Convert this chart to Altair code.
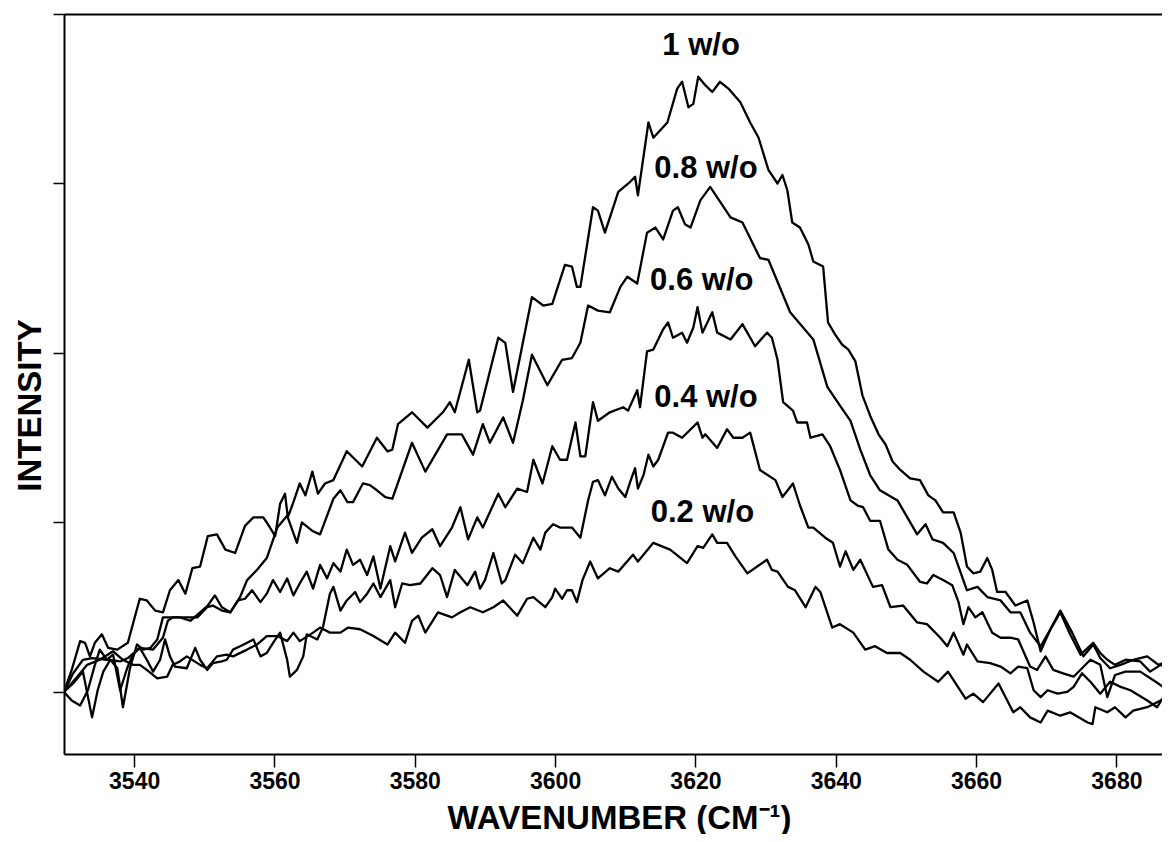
import altair as alt
import pandas as pd

# ---- spectra (wavenumber in cm-1, intensity in arbitrary units) ----
wn_a = [3530.0,3531.1,3532.3,3533.0,3533.7,3534.4,3535.4,3536.3,3537.6,3539.1,
        3540.8,3541.8,3543.0,3544.1,3545.1,3546.3,3547.3,3548.3,3549.4,3550.5,
        3551.8,3553.0,3554.4,3555.8,3557.0,3558.4,3558.9,3560.1,3560.8,3561.5,
        3561.9,3562.7,3563.6,3564.4,3565.4,3566.2,3567.2,3568.4,3570.3,3572.5,
        3574.6,3576.1,3576.8,3577.6,3579.6,3581.8,3584.0,3585.0,3585.7,3587.7,
        3588.9,3589.3,3591.9,3592.9,3594.0,3596.7,3598.3,3599.6,3601.4,3602.4,
        3603.1,3603.6,3605.4,3606.1,3607.1,3609.0,3610.7,3611.4,3611.8,3613.3,
        3614.0,3616.0,3617.4,3618.1,3619.0,3619.7,3620.4,3621.4,3622.4,3623.5,
        3624.7,3626.4,3627.8,3629.0,3630.4,3631.7,3632.4,3633.1,3633.8,3634.9,
        3636.1,3636.8,3638.2,3638.9,3639.9,3640.9,3641.8,3642.8,3643.8,3644.9,
        3646.1,3647.1,3648.1,3649.2,3650.6,3652.0,3653.2,3654.2,3655.3,3656.8,
        3657.8,3658.7,3659.6,3660.6,3661.6,3662.3,3663.0,3664.2,3665.6,3667.3,
        3668.2,3669.2,3670.6,3672.0,3673.7,3675.3,3676.7,3677.7,3679.1,3680.6,
        3682.4,3684.4,3686.0,3688.0]
int_a = [0.00,0.13,0.30,0.29,0.21,0.29,0.34,0.26,0.25,0.29,
         0.55,0.54,0.48,0.47,0.60,0.66,0.58,0.73,0.74,0.92,
         0.93,0.84,0.82,0.98,1.03,1.03,1.00,0.92,1.11,1.17,
         1.03,1.12,1.23,1.16,1.30,1.17,1.23,1.25,1.42,1.33,
         1.50,1.42,1.43,1.58,1.65,1.56,1.65,1.71,1.65,1.96,
         1.65,1.66,2.09,2.06,1.77,2.33,2.28,2.29,2.52,2.51,
         2.39,2.39,2.86,2.84,2.71,2.95,3.01,3.04,2.93,3.36,
         3.27,3.36,3.56,3.60,3.45,3.47,3.63,3.58,3.54,3.60,
         3.56,3.48,3.36,3.27,3.08,3.00,3.05,2.96,2.77,2.74,
         2.64,2.54,2.51,2.18,2.11,2.05,2.02,1.95,1.75,1.63,
         1.52,1.46,1.36,1.31,1.26,1.25,1.16,1.13,1.06,1.06,
         0.94,0.74,0.70,0.71,0.79,0.72,0.59,0.59,0.51,0.54,
         0.41,0.24,0.37,0.48,0.35,0.21,0.28,0.20,0.14,0.16,
         0.19,0.21,0.16,0.19]

wn_b = [3530.0,3531.3,3532.7,3534.0,3536.1,3538.0,3539.1,3540.8,3542.7,3544.1,
        3544.8,3545.5,3547.5,3549.0,3550.4,3551.2,3552.5,3553.7,3555.1,3556.1,
        3557.5,3558.9,3560.4,3561.8,3563.2,3563.9,3565.4,3566.5,3568.4,3569.4,
        3570.4,3571.2,3572.6,3573.6,3574.6,3575.8,3576.8,3579.6,3581.5,3584.6,
        3586.7,3588.3,3589.7,3590.7,3592.6,3594.0,3595.4,3596.7,3598.9,3601.0,
        3602.4,3603.6,3604.7,3606.1,3607.8,3609.3,3610.3,3611.7,3613.1,3614.3,
        3615.4,3616.8,3617.5,3618.5,3619.3,3620.7,3622.1,3625.0,3626.7,3629.2,
        3630.4,3633.5,3636.8,3638.8,3640.6,3642.1,3643.5,3644.9,3646.3,3648.8,
        3650.2,3651.6,3652.8,3653.8,3655.3,3656.8,3658.7,3660.2,3661.6,3663.5,
        3664.9,3666.3,3667.7,3669.2,3672.0,3673.4,3674.9,3676.7,3677.7,3678.7,
        3679.8,3681.3,3683.4,3684.8,3686.3,3688.0]
int_b = [0.00,0.11,0.19,0.20,0.19,0.18,0.20,0.26,0.25,0.32,
         0.42,0.44,0.44,0.44,0.50,0.51,0.48,0.47,0.56,0.66,
         0.72,0.79,0.97,1.04,0.88,1.00,0.95,0.93,1.14,1.19,
         1.12,1.12,1.23,1.22,1.19,1.15,1.14,1.47,1.30,1.52,
         1.52,1.40,1.58,1.47,1.62,1.47,1.72,1.99,1.81,1.96,
         1.97,2.06,2.28,2.25,2.24,2.39,2.45,2.41,2.71,2.74,
         2.67,2.84,2.86,2.76,2.74,2.90,2.98,2.80,2.77,2.56,
         2.55,2.24,2.08,1.80,1.69,1.60,1.43,1.28,1.19,1.13,
         1.03,0.93,0.99,0.90,0.88,0.82,0.60,0.62,0.56,0.54,
         0.47,0.47,0.35,0.27,0.47,0.34,0.22,0.29,0.23,0.19,
         0.16,0.19,0.18,0.12,0.16,0.13]

wn_c = [3530.0,3531.3,3532.7,3534.0,3534.8,3535.6,3536.6,3537.6,3538.4,3539.4,
        3540.4,3541.3,3542.3,3543.3,3544.1,3545.1,3546.5,3548.0,3549.4,3550.5,
        3551.5,3552.5,3553.7,3554.8,3555.8,3556.8,3558.0,3558.9,3559.8,3560.8,
        3561.8,3562.7,3563.6,3564.6,3565.5,3566.5,3567.5,3568.4,3569.4,3570.3,
        3571.2,3572.2,3573.2,3574.1,3575.1,3576.5,3577.2,3578.6,3579.6,3581.0,
        3582.5,3583.6,3585.3,3586.5,3587.6,3588.9,3589.7,3591.9,3592.9,3594.6,
        3596.0,3596.9,3598.2,3599.6,3600.7,3601.7,3602.9,3603.6,3604.3,3605.4,
        3606.1,3607.8,3609.7,3610.4,3611.7,3612.1,3613.1,3614.0,3615.4,3616.1,
        3616.8,3618.1,3618.8,3619.7,3620.3,3621.0,3622.4,3623.1,3625.0,3626.7,
        3628.5,3630.2,3630.9,3631.7,3632.5,3633.9,3634.5,3635.9,3636.4,3638.1,
        3639.2,3640.6,3642.1,3643.1,3643.9,3644.9,3646.3,3647.5,3648.8,3650.2,
        3652.0,3653.0,3653.9,3655.3,3656.6,3657.5,3658.2,3658.9,3659.9,3660.9,
        3662.3,3663.5,3664.9,3666.0,3667.7,3668.7,3669.9,3671.0,3672.4,3673.9,
        3675.1,3676.3,3677.7,3678.7,3679.8,3681.3,3683.4,3685.6,3687.0,3688.0]
int_c = [0.00,0.05,0.12,-0.15,0.01,0.12,0.19,0.14,-0.09,0.14,
         0.28,0.25,0.26,0.31,0.44,0.44,0.44,0.42,0.47,0.51,
         0.57,0.50,0.47,0.54,0.55,0.60,0.53,0.58,0.66,0.59,
         0.67,0.57,0.64,0.71,0.61,0.75,0.67,0.76,0.71,0.84,
         0.75,0.78,0.69,0.80,0.61,0.86,0.77,0.94,0.82,0.91,
         0.96,0.86,0.97,1.09,0.90,1.03,0.97,1.17,1.09,1.20,
         1.18,1.37,1.23,1.45,1.37,1.37,1.59,1.39,1.39,1.71,
         1.60,1.65,1.68,1.66,1.78,1.68,2.01,2.02,2.14,2.18,
         2.09,2.12,2.06,2.15,2.27,2.12,2.24,2.12,2.08,2.17,
         2.04,2.12,2.09,1.96,1.71,1.66,1.59,1.59,1.50,1.52,
         1.45,1.31,1.13,1.10,1.09,1.01,1.01,0.84,0.78,0.75,
         0.65,0.64,0.69,0.66,0.63,0.53,0.40,0.50,0.44,0.47,
         0.35,0.32,0.32,0.31,0.15,0.13,0.21,0.13,0.11,0.09,
         0.14,0.19,0.16,-0.03,0.10,0.12,0.12,0.06,0.02,0.01]

wn_d = [3530.0,3531.1,3532.3,3533.4,3534.4,3535.1,3536.1,3537.0,3538.0,3539.0,
        3539.8,3540.8,3541.8,3542.7,3543.7,3544.4,3545.1,3545.8,3547.5,3548.7,
        3549.4,3550.4,3551.2,3552.5,3553.2,3554.1,3555.1,3556.1,3557.0,3558.0,
        3558.9,3559.8,3560.8,3561.8,3562.2,3563.2,3564.1,3564.6,3566.1,3566.9,
        3567.9,3568.4,3569.4,3570.3,3571.5,3572.2,3573.2,3574.1,3575.1,3576.5,
        3577.2,3578.2,3579.3,3580.8,3582.5,3583.6,3584.6,3585.7,3587.5,3588.6,
        3589.3,3590.0,3591.2,3592.4,3592.9,3594.3,3595.4,3596.9,3597.9,3598.6,
        3599.7,3600.7,3602.4,3603.6,3604.7,3605.4,3606.1,3607.1,3608.1,3609.0,
        3610.0,3610.7,3611.4,3611.8,3612.6,3613.3,3614.0,3614.7,3616.1,3616.8,
        3618.1,3620.3,3621.0,3621.4,3623.1,3624.5,3625.4,3626.7,3627.8,3629.2,
        3631.4,3632.4,3633.9,3634.9,3636.1,3636.8,3638.5,3639.6,3640.6,3641.4,
        3642.5,3643.5,3645.3,3646.6,3647.8,3649.6,3651.6,3653.0,3654.9,3655.9,
        3656.8,3658.2,3658.7,3660.2,3662.0,3663.5,3664.9,3666.0,3667.3,3668.2,
        3669.2,3670.2,3671.6,3673.0,3673.9,3675.1,3676.3,3677.7,3679.1,3680.6,
        3682.0,3684.4,3685.8,3686.7,3688.0]
int_d = [0.00,-0.05,-0.08,0.01,0.16,0.25,0.19,0.22,0.01,0.14,
         0.22,0.26,0.19,0.12,0.19,0.31,0.21,0.15,0.14,0.26,
         0.19,0.13,0.17,0.18,0.19,0.25,0.27,0.29,0.31,0.21,
         0.23,0.29,0.35,0.19,0.09,0.13,0.21,0.34,0.31,0.38,
         0.58,0.62,0.48,0.54,0.59,0.53,0.58,0.64,0.56,0.66,
         0.50,0.64,0.63,0.64,0.73,0.69,0.56,0.72,0.63,0.71,
         0.61,0.66,0.82,0.64,0.66,0.81,0.76,0.91,0.84,0.94,
         0.99,0.97,0.97,0.91,1.13,1.24,1.25,1.16,1.27,1.20,
         1.15,1.24,1.32,1.20,1.28,1.40,1.33,1.37,1.53,1.53,
         1.50,1.59,1.50,1.52,1.44,1.55,1.50,1.50,1.53,1.31,
         1.25,1.15,1.23,1.10,0.97,0.97,0.91,0.88,0.74,0.83,
         0.72,0.78,0.62,0.63,0.50,0.51,0.41,0.40,0.32,0.27,
         0.35,0.22,0.28,0.18,0.17,0.15,0.11,0.15,0.14,0.01,
         -0.03,0.01,-0.01,0.00,0.03,0.11,0.06,-0.01,0.06,0.03,
         0.01,-0.05,-0.09,-0.03,0.03]

wn_e = [3530.0,3531.9,3533.3,3535.1,3537.0,3538.4,3539.8,3540.8,3541.8,3543.3,
        3544.7,3545.5,3546.5,3547.5,3549.4,3550.4,3551.8,3553.2,3554.1,3556.1,
        3557.5,3558.9,3560.4,3561.8,3562.7,3563.6,3565.5,3566.5,3567.9,3569.4,
        3570.5,3572.2,3574.1,3576.1,3577.2,3578.6,3579.6,3580.5,3581.5,3583.3,
        3585.3,3586.5,3587.9,3589.7,3591.2,3592.6,3594.6,3596.0,3596.9,3598.6,
        3599.6,3600.0,3601.0,3601.7,3602.4,3603.1,3603.9,3605.0,3606.1,3607.8,
        3609.0,3611.1,3611.8,3614.0,3616.4,3618.8,3620.3,3621.1,3622.4,3623.1,
        3624.5,3625.7,3627.4,3628.8,3630.2,3630.9,3631.7,3633.2,3634.2,3635.7,
        3637.1,3637.8,3639.5,3640.6,3642.5,3644.2,3645.6,3647.3,3649.2,3650.6,
        3652.5,3654.6,3656.0,3658.5,3659.6,3661.0,3663.2,3665.3,3666.3,3667.7,
        3669.2,3670.2,3672.0,3673.4,3675.9,3676.6,3677.0,3678.7,3679.8,3681.3,
        3682.4,3684.4,3686.3,3688.0]
int_e = [0.00,0.09,0.16,0.19,0.24,0.19,0.16,0.16,0.13,0.08,
         0.09,0.16,0.18,0.21,0.16,0.14,0.21,0.22,0.21,0.25,
         0.28,0.33,0.33,0.30,0.35,0.30,0.35,0.38,0.35,0.35,
         0.38,0.37,0.33,0.28,0.35,0.29,0.42,0.45,0.35,0.47,
         0.44,0.47,0.50,0.47,0.50,0.54,0.45,0.55,0.56,0.50,
         0.56,0.61,0.55,0.60,0.60,0.53,0.66,0.77,0.67,0.73,
         0.71,0.81,0.77,0.88,0.84,0.76,0.86,0.85,0.93,0.88,
         0.88,0.80,0.70,0.74,0.78,0.72,0.71,0.62,0.60,0.50,
         0.62,0.59,0.38,0.40,0.35,0.25,0.27,0.23,0.23,0.19,
         0.12,0.06,0.12,-0.04,-0.01,-0.06,0.05,-0.12,-0.09,-0.15,
         -0.18,-0.11,-0.14,-0.12,-0.18,-0.19,-0.09,-0.12,-0.09,-0.15,
         -0.11,-0.09,-0.05,-0.03]

series_names = ["1 w/o", "0.8 w/o", "0.6 w/o", "0.4 w/o", "0.2 w/o"]
series_wn = [wn_a, wn_b, wn_c, wn_d, wn_e]
series_int = [int_a, int_b, int_c, int_d, int_e]

# curve labels (placed just above each curve's maximum)
label_wn = [3620.8, 3621.5, 3620.9, 3621.5, 3621.0]
label_int = [3.76, 3.03, 2.37, 1.68, 1.00]

x_ticks = [3540, 3560, 3580, 3600, 3620, 3640, 3660, 3680]
y_ticks = [0, 1, 2, 3, 4]

rows = []
for name, xs, ys in zip(series_names, series_wn, series_int):
    for i, (xv, yv) in enumerate(zip(xs, ys)):
        rows.append({"series": name, "idx": i, "wavenumber": xv, "intensity": yv})
df = pd.DataFrame(rows)
lab_df = pd.DataFrame({"label": series_names, "wavenumber": label_wn, "intensity": label_int})

FONT = "Liberation Sans, Arial, Helvetica, sans-serif"

x_scale = alt.Scale(domain=[3530, 3686.5], nice=False, zero=False)
y_scale = alt.Scale(domain=[-0.366, 4], nice=False, zero=False)

y_axis = alt.Axis(
    values=y_ticks, labels=False, grid=False,
    tickSize=11, tickWidth=1.5, tickColor="black",
    domainColor="black", domainWidth=2,
    title="INTENSITY", titleFont=FONT, titleFontSize=33, titleFontWeight="bold",
    titleColor="black", titleAngle=270, titleX=-24, titleY=391,
    titleBaseline="alphabetic", titleAlign="center",
)

x_axis = alt.Axis(
    values=x_ticks, format="d", grid=False, labelFlush=False,
    labelFont=FONT, labelFontSize=23, labelFontWeight="bold", labelColor="black",
    labelPadding=3, tickSize=13, tickWidth=1.5, tickColor="black",
    domainColor="black", domainWidth=2,
    title="WAVENUMBER (CM\u207b\u00b9)", titleFont=FONT, titleFontSize=33,
    titleFontWeight="bold", titleColor="black", titleX=555, titleY=74,
    titleBaseline="alphabetic", titleAlign="center",
)

top_axis = alt.Axis(
    orient="top", labels=False, ticks=False, grid=False, title="",
    domainColor="black", domainWidth=2,
)

lines = alt.Chart(df).mark_line(
    color="black", strokeWidth=2.3, clip=True, strokeJoin="round"
).encode(
    x=alt.X("wavenumber:Q", scale=x_scale, axis=x_axis),
    y=alt.Y("intensity:Q", scale=y_scale, axis=y_axis),
    detail="series:N",
    order="idx:Q",
)

labels = alt.Chart(lab_df).mark_text(
    font=FONT, fontSize=31, fontWeight="bold", color="black",
    align="center", baseline="alphabetic",
).encode(
    x=alt.X("wavenumber:Q", scale=x_scale, axis=top_axis),
    y=alt.Y("intensity:Q", scale=y_scale, axis=y_axis),
    text="label:N",
)

chart = (
    alt.layer(lines, labels)
    .resolve_scale(x="independent")
    .resolve_axis(x="independent")
    .properties(
        width=1098, height=740,
        padding={"left": 56, "top": 6, "right": 0, "bottom": 80},
        autosize=alt.AutoSizeParams(type="none"),
        background="white",
    )
    .configure_view(stroke=None)
)

chart.save("out.html", embed_options={"renderer": "svg", "actions": False})
